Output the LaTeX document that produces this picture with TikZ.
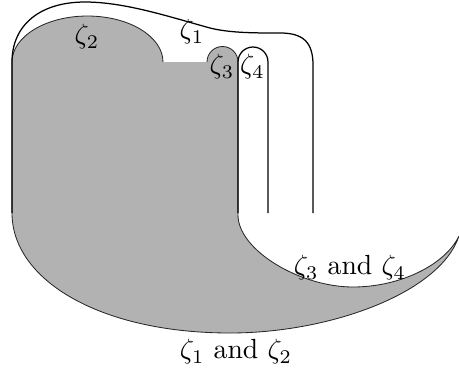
\documentclass[tikz,border=0pt]{standalone}
\begin{document}
\begin{tikzpicture}[x=0.361pt,y=-0.361pt,
  region/.style={fill=black!30, draw=none},
  rim/.style={draw=black!85, line width=0.3pt},
  curve/.style={draw=black, line width=0.45pt},
  lbl/.style={inner sep=1pt}]
\useasboundingbox (0,0) rectangle (459,372);
% gray region
\path[region] (12,62) .. controls (12,36.6) and (45.8,16) .. (87.5,16)
  .. controls (129.2,16) and (163,36.6) .. (163,62) -- (207,62)
  .. controls (207,53.4) and (213.9,46.5) .. (222.5,46.5)
  .. controls (231.1,46.5) and (238,53.4) .. (238,62) -- (238,215)
  .. controls (238,250) and (300,287) .. (353,287)
  .. controls (400,287) and (445,265) .. (459,236)
  .. controls (440,293) and (330,333) .. (230,333)
  .. controls (100,333) and (12,280) .. (12,213) -- cycle;
% thin outline
\path[rim] (12,62) .. controls (12,36.6) and (45.8,16) .. (87.5,16)
  .. controls (129.2,16) and (163,36.6) .. (163,62)
  (207,62) .. controls (207,53.4) and (213.9,46.5) .. (222.5,46.5)
  .. controls (231.1,46.5) and (238,53.4) .. (238,62) -- (238,215)
  .. controls (238,250) and (300,287) .. (353,287)
  .. controls (400,287) and (445,265) .. (459,236)
  .. controls (440,293) and (330,333) .. (230,333)
  .. controls (100,333) and (12,280) .. (12,213) -- (12,62);
% zeta_1 curve
\path[curve] (12,213) -- (12,62) .. controls (12,25) and (40,2) .. (85,2)
  .. controls (125,2) and (170,17) .. (210,28)
  .. controls (230,33) and (255,33) .. (280,33)
  .. controls (303,33) and (313,42) .. (313,65) -- (313,213);
% zeta_4 loop
\path[curve] (238,213) -- (238,62) .. controls (238,53.7) and (244.7,47) .. (253,47)
  .. controls (261.3,47) and (268,53.7) .. (268,62) -- (268,213);
% labels
\node[lbl] (z2) at (87,37) {$\zeta_2$};
\node[lbl] (z1) at (192,32) {$\zeta_1$};
\node[lbl] (z3) at (222,67) {$\zeta_3$};
\node[lbl] (z4) at (252.5,67) {$\zeta_4$};
\node[lbl] (z34) at (350,268) {$\zeta_3$ and $\zeta_4$};
\node[lbl] (z12) at (236,352) {$\zeta_1$ and $\zeta_2$};
\end{tikzpicture}
\end{document}
